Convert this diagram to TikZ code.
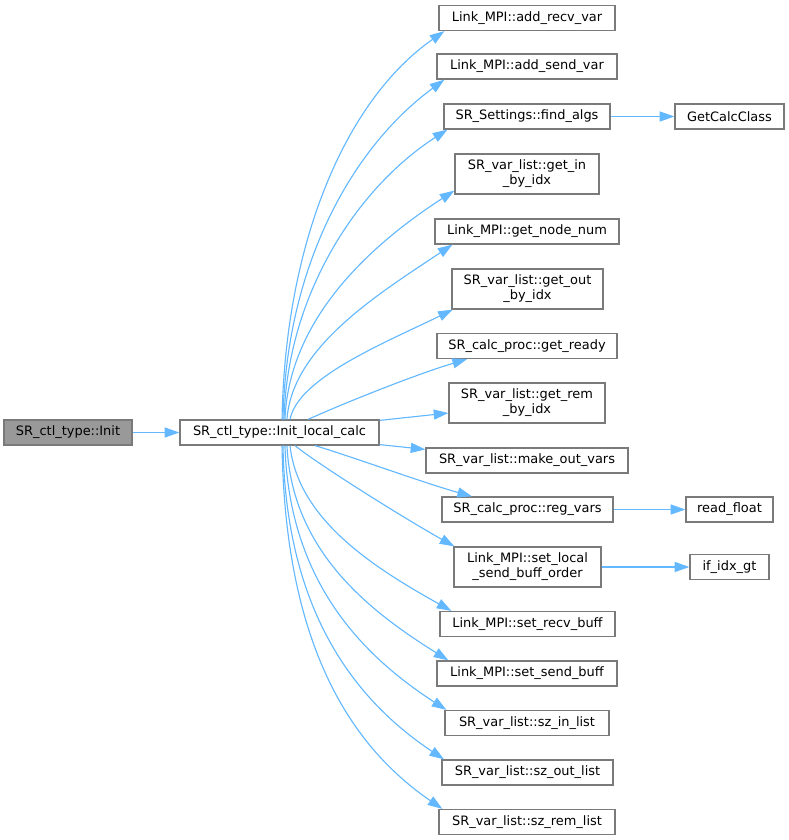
\documentclass[tikz,border=0pt]{standalone}
\usepackage{fontspec}
\setmainfont{DejaVu Sans}
\usetikzlibrary{arrows.meta}
\definecolor{edgeblue}{HTML}{63B8FF}
\definecolor{boxgray}{HTML}{7A7A7A}
\definecolor{rootgray}{HTML}{999999}

\begin{document}
\begin{tikzpicture}[x=0.75pt,y=-0.75pt,>={Triangle[length=11pt,width=7.5pt]},
 fn/.style={draw=boxgray,line width=0.9pt,fill=white,inner sep=0pt,
  minimum height=18.75pt,font=\fontsize{9.7}{11.3}\selectfont,align=center},
 fn2/.style={fn,minimum height=30pt},
 call/.style={->,draw=edgeblue,line width=0.85pt}]
\useasboundingbox (0,0) rectangle (789,840);
% caller and the function itself
\node[fn,fill=rootgray,minimum width=96pt] (init) at (68,432.5) {SR\_ctl\_type::Init};
\node[fn,minimum width=149.25pt] (ilc) at (279.5,432.5) {SR\_ctl\_type::Init\_local\_calc};
% callees
\node[fn,minimum width=132pt] (addrecv) at (527,18) {Link\_MPI::add\_recv\_var};
\node[fn,minimum width=135pt] (addsend) at (527,66.5) {Link\_MPI::add\_send\_var};
\node[fn,minimum width=124.5pt] (findalgs) at (527,116.5) {SR\_Settings::find\_algs};
\node[fn,minimum width=81.75pt] (getcalc) at (729.5,116.5) {GetCalcClass};
\node[fn2,minimum width=108pt] (getin) at (527,174) {SR\_var\_list::get\_in\\\_by\_idx};
\node[fn,minimum width=138pt] (nodenum) at (527,231.5) {Link\_MPI::get\_node\_num};
\node[fn2,minimum width=113.25pt] (getout) at (527.5,289) {SR\_var\_list::get\_out\\\_by\_idx};
\node[fn,minimum width=135pt] (ready) at (527,346) {SR\_calc\_proc::get\_ready};
\node[fn2,minimum width=117pt] (getrem) at (527,403) {SR\_var\_list::get\_rem\\\_by\_idx};
\node[fn,minimum width=151.5pt] (mkout) at (527,460.5) {SR\_var\_list::make\_out\_vars};
\node[fn,minimum width=128.25pt] (regvars) at (527.5,509.5) {SR\_calc\_proc::reg\_vars};
\node[fn,minimum width=65.25pt] (readfloat) at (729.5,509.5) {read\_float};
\node[fn2,minimum width=110.25pt] (setlocal) at (527.5,567) {Link\_MPI::set\_local\\\_send\_buff\_order};
\node[fn,minimum width=59.25pt] (idxgt) at (729.5,567) {if\_idx\_gt};
\node[fn,minimum width=131.25pt] (setrecv) at (527.5,624) {Link\_MPI::set\_recv\_buff};
\node[fn,minimum width=135pt] (setsend) at (527,673.5) {Link\_MPI::set\_send\_buff};
\node[fn,minimum width=123pt] (szin) at (527,723) {SR\_var\_list::sz\_in\_list};
\node[fn,minimum width=128.25pt] (szout) at (527.5,772.5) {SR\_var\_list::sz\_out\_list};
\node[fn,minimum width=132pt] (szrem) at (527,822) {SR\_var\_list::sz\_rem\_list};
% calls
\draw[call] (init) -- (ilc);
\draw[call] ([xshift=1.9pt]ilc.north) .. controls +(3,-175) and +(-100,70) .. ([xshift=4.5pt]addrecv.south west);
\draw[call] ([xshift=2.6pt]ilc.north) .. controls +(3,-150) and +(-95,70) .. ([xshift=6pt]addsend.south west);
\draw[call] ([xshift=3.4pt]ilc.north) .. controls +(3,-125) and +(-90,58) .. ([xshift=3pt]findalgs.south west);
\draw[call] ([xshift=4.1pt]ilc.north) .. controls +(4,-100) and +(-85,55) .. ([yshift=3pt]getin.south west);
\draw[call] ([xshift=5.6pt]ilc.north) .. controls +(5,-72) and +(-75,50) .. ([xshift=13.5pt]nodenum.south west);
\draw[call] ([xshift=7.9pt]ilc.north) .. controls +(8,-42) and +(-65,32) .. ([xshift=1pt]getout.south west);
\draw[call] ([xshift=21.4pt]ilc.north) .. controls +(40,-18) and +(-50,15) .. ([xshift=23pt]ready.south west);
\draw[call] ([yshift=-0.75pt]ilc.north east) -- ([yshift=-7.5pt]getrem.west);
\draw[call] ([yshift=0.75pt]ilc.south east) -- ([yshift=-1.5pt]mkout.north west);
\draw[call] ([xshift=26.6pt]ilc.south) .. controls +(40,12) and +(-50,-14) .. ([xshift=23pt]regvars.north west);
\draw[call] ([xshift=11.6pt]ilc.south) .. controls +(25,20) and +(-50,-28) .. ([xshift=0.75pt]setlocal.north west);
\draw[call] ([xshift=7.9pt]ilc.south) .. controls +(8,75) and +(-75,-42) .. ([xshift=9pt]setrecv.north west);
\draw[call] ([xshift=5.6pt]ilc.south) .. controls +(5,105) and +(-80,-50) .. ([xshift=9pt]setsend.north west);
\draw[call] ([xshift=4.1pt]ilc.south) .. controls +(4,135) and +(-85,-55) .. ([xshift=1.5pt]szin.north west);
\draw[call] ([xshift=2.6pt]ilc.south) .. controls +(3,165) and +(-90,-60) .. ([xshift=2pt]szout.north west);
\draw[call] ([xshift=1.9pt]ilc.south) .. controls +(3,195) and +(-95,-65) .. ([xshift=3pt]szrem.north west);
\draw[call] (findalgs) -- (getcalc);
\draw[call] (regvars) -- (readfloat);
\draw[call] (setlocal) -- (idxgt);
\end{tikzpicture}
\end{document}
